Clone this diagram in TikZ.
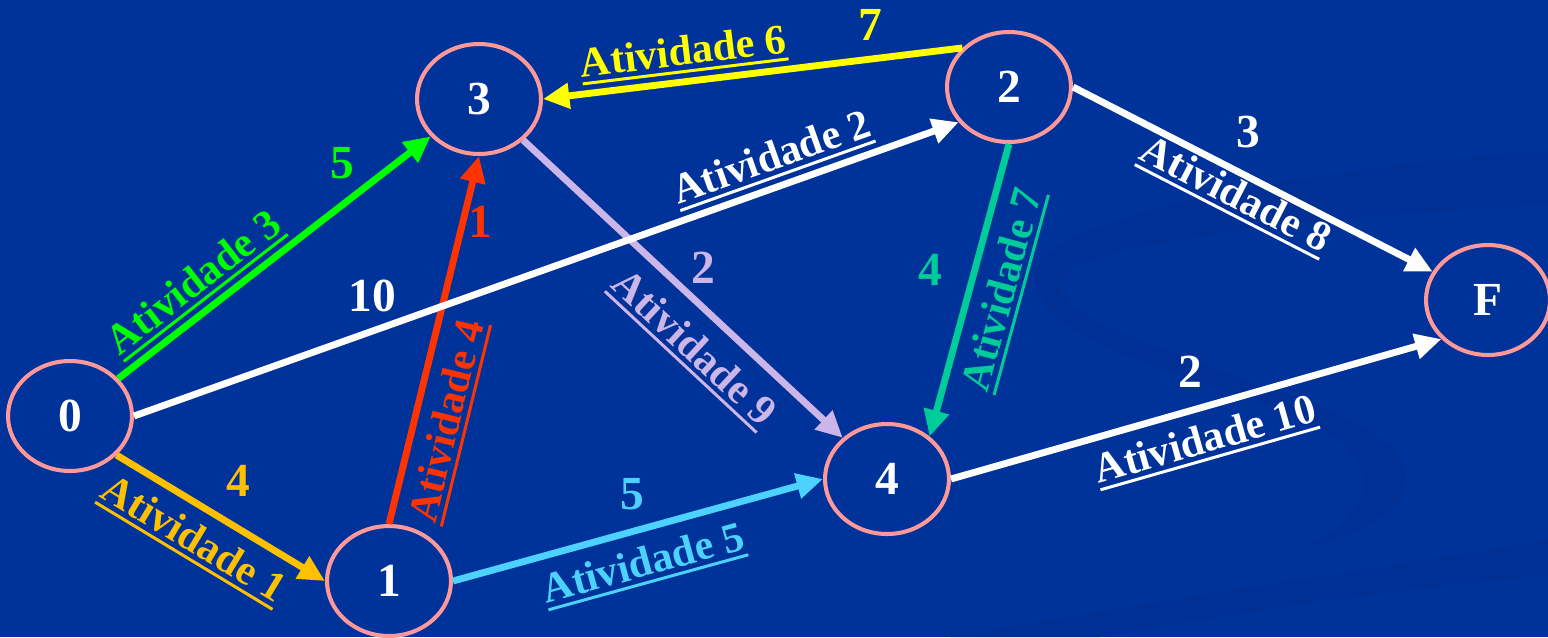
\documentclass[tikz,border=0pt]{standalone}
\usepackage{fontspec}
\setmainfont{Liberation Serif}
\usetikzlibrary{shapes.geometric,arrows.meta}

\definecolor{fundo}{RGB}{0,51,153}
\definecolor{fundoesc}{RGB}{0,48,147}
\definecolor{borda}{RGB}{255,153,153}
\definecolor{verde}{RGB}{0,255,0}
\definecolor{laranja}{RGB}{255,192,0}
\definecolor{vermelho}{RGB}{255,51,0}
\definecolor{ciano}{RGB}{77,210,255}
\definecolor{lilas}{RGB}{204,181,232}
\definecolor{amarelo}{RGB}{255,255,0}
\definecolor{turquesa}{RGB}{0,204,153}

% texto sublinhado com traco grosso
\newcommand{\sublin}[1]{\setbox0=\hbox{#1}\rlap{\rule[-4.5pt]{\wd0}{1.7pt}}\box0}

\begin{document}
\begin{tikzpicture}[
    x=0.02cm, y=-0.02cm,
    evento/.style={ellipse, draw=borda, line width=2.3pt, fill=fundo,
                   text=white, minimum width=2.48cm, minimum height=2.2cm,
                   font=\fontsize{27}{27}\selectfont\bfseries},
    ativ/.style={-{Triangle[length=15pt,width=14pt]}, line width=3.9pt},
    rot/.style={sloped, inner sep=1pt,
                font=\fontsize{24}{24}\selectfont\bfseries},
    peso/.style={inner sep=0pt, font=\fontsize{27}{27}\selectfont\bfseries}
  ]
    \fill[fundo] (0,0) rectangle (1548,637);
    \useasboundingbox (0,0) rectangle (1548,637);
    % faixas do fundo
    \fill[fundoesc] (1035,272) .. controls (1050,215) and (1300,170) .. (1548,150)
      -- (1548,205) .. controls (1350,215) and (1080,240) .. (1060,280)
      .. controls (1050,320) and (1200,360) .. (1330,410)
      .. controls (1450,460) and (1420,520) .. (1300,550)
      .. controls (1400,500) and (1380,440) .. (1250,400)
      .. controls (1100,350) and (1030,320) .. (1035,272) -- cycle;
    \fill[fundoesc] (1548,540) .. controls (1300,580) and (1100,610) .. (950,637)
      -- (1100,637) .. controls (1250,610) and (1400,590) .. (1548,575) -- cycle;

    \node[evento] (n0) at (70,416) {0};
    \node[evento] (n3) at (479,99) {3};
    \node[evento] (n1) at (389,581) {1};
    \node[evento] (n2) at (1009,87) {2};
    \node[evento] (n4) at (887,479) {4};
    \node[evento] (nF) at (1488,300) {F};

    \draw[ativ, verde] (n0) -- node[rot, pos=0.3, above=2pt] (a3) {\sublin{Atividade 3}} (n3);
    \draw[ativ, laranja] (n0.-40) -- node[rot, pos=0.45, below=6pt] (a1) {\sublin{Atividade 1}} (n1.west);
    \draw[ativ, vermelho] (n1.north) -- node[rot, pos=0.3, below=6pt] (a4) {\sublin{Atividade 4}} (n3.south);
    \draw[ativ, ciano] (n1.east) -- node[rot, pos=0.49, below=7pt] (a5) {\sublin{Atividade 5}} (n4.west);
    \draw[ativ, lilas] (n3) -- node[rot, pos=0.61, below=8pt] (a9) {\sublin{Atividade 9}} (n4);
    \draw[ativ, white] (n0.east) -- node[rot, pos=0.785, above=2pt] (a2) {\sublin{Atividade 2}} (n2.215);
    \draw[ativ, amarelo] (n2.140) -- node[rot, pos=0.657, above=2pt] (a6) {\sublin{Atividade 6}} (n3.east);
    \draw[ativ, turquesa] (n2.south) -- node[rot, pos=0.47, below=6pt] (a7) {\sublin{Atividade 7}} (n4.45);
    \draw[ativ, white] (n2.east) -- node[rot, pos=0.48, below=0pt] (a8) {\sublin{Atividade 8}} (nF);
    \draw[ativ, white] (n4.east) -- node[rot, pos=0.5, below=6pt] (a10) {\sublin{Atividade 10}} (nF.220);

    % duracoes
    \node[peso, verde] (p3) at (342,163) {5};
    \node[peso, laranja] (p1) at (238,481) {4};
    \node[peso, vermelho] (p4) at (480,222) {1};
    \node[peso, ciano] (p5) at (632,494) {5};
    \node[peso, lilas] (p9) at (703,268) {2};
    \node[peso, white] (p2) at (372,296) {10};
    \node[peso, amarelo] (p6) at (870,25) {7};
    \node[peso, turquesa] (p7) at (930,270) {4};
    \node[peso, white] (p8) at (1248,132) {3};
    \node[peso, white] (p10) at (1190,372) {2};
\end{tikzpicture}
\end{document}
